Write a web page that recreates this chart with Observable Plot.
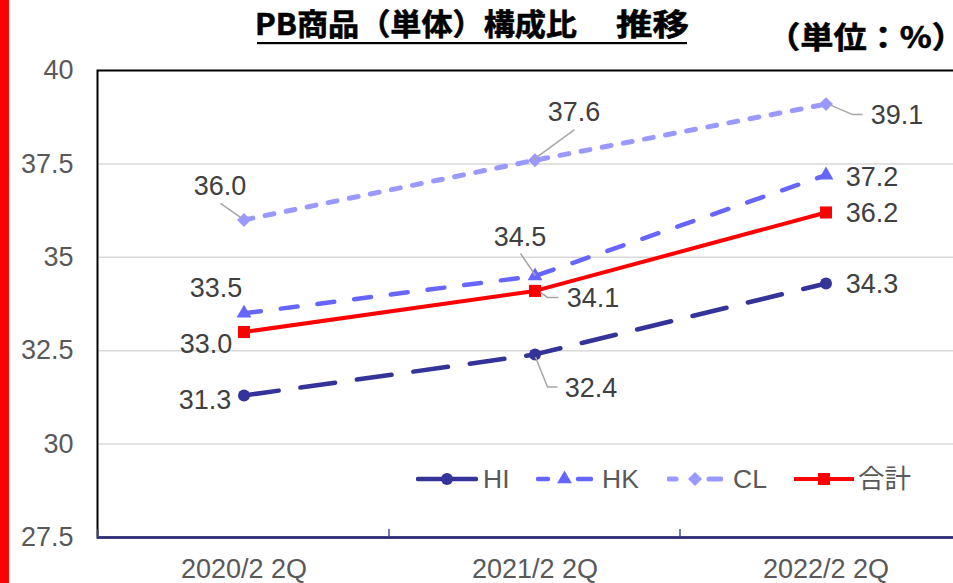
<!DOCTYPE html>
<html><head><meta charset="utf-8">
<script src="https://cdn.jsdelivr.net/npm/d3@7"></script>
<script src="https://cdn.jsdelivr.net/npm/@observablehq/plot@0.6"></script>
<style>
html,body{margin:0;padding:0;background:#fff;overflow:hidden;width:953px;height:583px}
#wrap{position:relative;width:953px;height:583px;overflow:hidden}
#bar{position:absolute;left:0;top:0;width:9px;height:583px;background:#ff0000}
#chart{position:absolute;left:0;top:0}
.over{position:absolute;left:0;top:0;pointer-events:none}
.leg{position:absolute;display:flex;align-items:center;font-family:'Liberation Sans',Arial,'Noto Sans CJK JP',sans-serif;font-size:26.5px;color:#595959;line-height:30px}
</style></head><body>
<div id="wrap"><div id="chart"></div><div id="bar"></div></div>
<script>
// ---- data ----
const categories = ["2020/2 2Q", "2021/2 2Q", "2022/2 2Q"];
const seriesNames = ["HI", "HK", "CL", "合計"];
const hiValues = [31.3, 32.4, 34.3];
const hkValues = [33.5, 34.5, 37.2];
const clValues = [36.0, 37.6, 39.1];
const totalValues = [33.0, 34.1, 36.2];
const yTicks = [27.5, 30, 32.5, 35, 37.5, 40];
const gridTicks = [30, 32.5, 35, 37.5];
const titleMain = "PB商品（単体）構成比";
const titleTail = "推移";
const unitText = "（単位：%）";

// ---- styles ----
const valuesBySeries = {"HI": hiValues, "HK": hkValues, "CL": clValues, "合計": totalValues};
const styles = {
  "HI":  {color: "#333399", dash: "35,22", width: 4.5, symbol: "circle", r: 6},
  "HK":  {color: "#6666FF", dash: "17,20", width: 4.5, symbol: "triangle", r: 5.5},
  "CL":  {color: "#9999FF", dash: "9,12.5", width: 5, symbol: "diamond2", r: 6.3},
  "合計": {color: "#FF0000", dash: null, width: 4, symbol: "square", r: 6.8}
};
// label offsets (px) per series per category
const labelOffsets = {
  "HI":  [[-39, 5], [56, 34], [46, 1]],
  "HK":  [[-28, -25], [-15, -39], [46, 2]],
  "CL":  [[-24, -34], [39, -48], [71, 11]],
  "合計": [[-38, 12], [58, 7], [46, 1]]
};
// leader polylines (px relative to point)
const leaderLines = [
  {series: "CL", i: 0, pts: [[-23, -16], [-3, -2]]},
  {series: "CL", i: 1, pts: [[40, -30], [-1, 0]]},
  {series: "CL", i: 2, pts: [[4, 1], [27, 11], [37, 11]]},
  {series: "HK", i: 1, pts: [[-14, -22], [1, 0]]},
  {series: "合計", i: 1, pts: [[6, 2], [13, 7], [24, 7]]},
  {series: "HI", i: 1, pts: [[1, 3], [13, 33], [23, 33]]}
];

const data = [];
seriesNames.forEach(s => categories.forEach((c, i) => data.push({series: s, cat: c, value: valuesBySeries[s][i], i})));

const marks = [
  Plot.ruleY(gridTicks, {stroke: "#d9d9d9", strokeWidth: 1.5}),
  Plot.frame({stroke: "#000", strokeWidth: 2}),
  Plot.ruleY([yTicks[0]], {stroke: "#2B2D7C", strokeWidth: 2.5})
];
seriesNames.forEach(s => {
  const st = styles[s];
  const d = data.filter(e => e.series === s);
  marks.push(Plot.line(d, {x: "cat", y: "value", stroke: st.color, strokeWidth: st.width,
    strokeDasharray: st.dash || undefined, strokeLinecap: st.dash ? "round" : "butt", strokeLinejoin: "round"}));
});
seriesNames.forEach(s => {
  const st = styles[s];
  const d = data.filter(e => e.series === s);
  marks.push(Plot.dot(d, {x: "cat", y: "value", symbol: st.symbol, r: st.r, fill: st.color, stroke: "none"}));
});
seriesNames.forEach(s => {
  data.filter(e => e.series === s).forEach(e => {
    const [dx, dy] = labelOffsets[s][e.i];
    marks.push(Plot.text([e], {x: "cat", y: "value", text: d => d.value.toFixed(1), dx, dy,
      fill: "#404040", fontSize: 27, textAnchor: "middle", lineAnchor: "middle"}));
  });
});

const plot = Plot.plot({
  width: 953, height: 583,
  marginLeft: 97, marginRight: -19, marginTop: 70, marginBottom: 46,
  x: {type: "band", domain: categories, padding: 0, tickSize: 0, tickPadding: 21, label: null},
  y: {domain: [27.5, 40], ticks: yTicks, tickSize: 0, tickPadding: 24, label: null, tickFormat: d => String(d)},
  style: {fontFamily: "'Liberation Sans', Arial, sans-serif", fontSize: "27px", color: "#595959", background: "transparent"},
  marks
});
document.getElementById("chart").appendChild(plot);

// post-process: leaders and boundary ticks via the plot's scales
const xs = plot.scale("x"), ys = plot.scale("y");
const svg = d3.select(plot);
const bw = xs.bandwidth;
const xCenter = c => xs.apply(c) + bw / 2;
const lg = svg.append("g");
leaderLines.forEach(L => {
  const px = xCenter(categories[L.i]);
  const py = ys.apply(valuesBySeries[L.series][L.i]);
  lg.append("polyline").attr("points", L.pts.map(p => [px + p[0], py + p[1]].join(",")).join(" "))
    .attr("fill", "none").attr("stroke", "#a6a6a6").attr("stroke-width", 1.5);
});
const yb = ys.apply(yTicks[0]);
for (let k = 0; k <= categories.length; k++) {
  const x = xs.apply(categories[0]) + k * bw;
  svg.append("line").attr("x1", x).attr("x2", x).attr("y1", yb - 8).attr("y2", yb)
    .attr("stroke", "#4B4E9E").attr("stroke-width", 1.5);
}

// ---- title, unit and legend overlays ----
const wrap = d3.select("#wrap");
const ov = wrap.append("svg").attr("class", "over").attr("width", 953).attr("height", 80);
const tFont = "'Noto Sans CJK JP', sans-serif";
ov.append("text").attr("x", 255).attr("y", 35).attr("textLength", 322).attr("lengthAdjust", "spacingAndGlyphs")
  .attr("font-family", tFont).attr("font-weight", 700).attr("font-size", 30)
  .attr("fill", "#000").attr("stroke", "#000").attr("stroke-width", 0.6).text(titleMain);
ov.append("text").attr("x", 616).attr("y", 35).attr("textLength", 73).attr("lengthAdjust", "spacingAndGlyphs")
  .attr("font-family", tFont).attr("font-weight", 700).attr("font-size", 30)
  .attr("fill", "#000").attr("stroke", "#000").attr("stroke-width", 0.6).text(titleTail);
ov.append("rect").attr("x", 257).attr("y", 42).attr("width", 430).attr("height", 2.2).attr("fill", "#000");
ov.append("text").attr("x", 767).attr("y", 48).attr("textLength", 198).attr("lengthAdjust", "spacingAndGlyphs")
  .attr("font-family", tFont).attr("font-weight", 700).attr("font-size", 30)
  .attr("fill", "#000").attr("stroke", "#000").attr("stroke-width", 0.6).text(unitText);

const legendItems = [
  {s: "HI", left: 416, w: 62, segs: [[2, 60]], textX: 483},
  {s: "HK", left: 536, w: 57, segs: [[2, 12], [42, 55]], textX: 602},
  {s: "CL", left: 667, w: 56, segs: [[2, 9], [42, 54]], textX: 733},
  {s: "合計", left: 793, w: 62, segs: [[1, 61]], textX: 858}
];
const legendY = 479;
legendItems.forEach(it => {
  const st = styles[it.s];
  const k = wrap.append("svg").attr("class", "over")
    .style("left", it.left + "px").style("top", (legendY - 10) + "px")
    .attr("width", it.w).attr("height", 20);
  it.segs.forEach(sg => k.append("line").attr("x1", sg[0]).attr("x2", sg[1]).attr("y1", 10).attr("y2", 10)
    .attr("stroke", st.color).attr("stroke-width", st.width).attr("stroke-linecap", st.dash ? "round" : "butt"));
  const symMap = {circle: d3.symbolCircle, triangle: d3.symbolTriangle, diamond2: d3.symbolDiamond2, square: d3.symbolSquare};
  k.append("path").attr("transform", `translate(${it.w / 2},10)`)
    .attr("d", d3.symbol(symMap[st.symbol], st.r * st.r * Math.PI)()).attr("fill", st.color);
  wrap.append("div").attr("class", "leg").style("left", it.textX + "px").style("top", (legendY - 15) + "px").text(it.s);
});
</script>
</body></html>
